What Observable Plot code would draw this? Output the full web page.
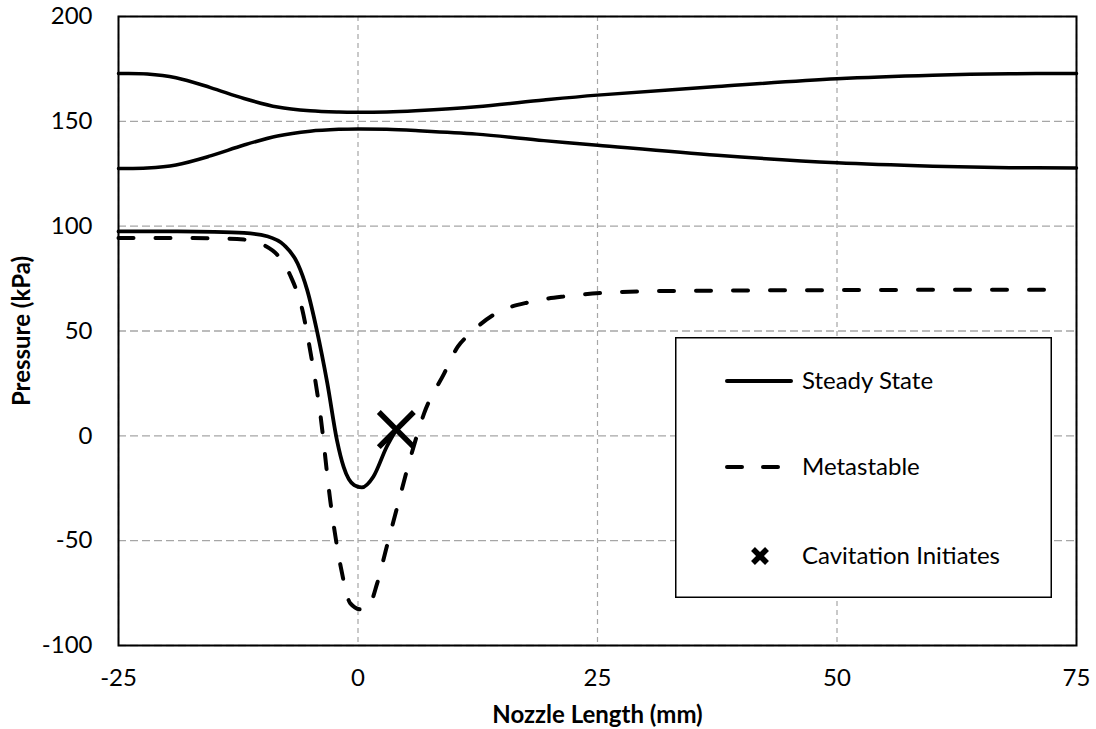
<!DOCTYPE html>
<html>
<head>
<meta charset="utf-8">
<script src="https://cdn.jsdelivr.net/npm/d3@7"></script>
<script src="https://cdn.jsdelivr.net/npm/@observablehq/plot@0.6"></script>
<style>
  html, body { margin: 0; padding: 0; background: #fff; }
  #wrap { position: relative; width: 1096px; height: 729px; font-family: Lato, "Open Sans", sans-serif; }
  #wrap svg.plot { font-family: Lato, "Open Sans", sans-serif; }
  [aria-label="x-axis label"] text, [aria-label="y-axis label"] text { font-weight: bold; font-size: 24px; }
  #legend { position: absolute; left: 675px; top: 337px; }
</style>
</head>
<body>
<div id="wrap"></div>
<script>
// Nozzle wall profile (upper and lower), x in mm
const wallX     = [-25, -22, -19, -15.4, -11.9, -8.4, -5, -2, 0, 3, 6, 12.4, 19.4, 25, 37.5, 50, 60, 68, 75];
const upperWall = [172.8, 172.6, 170.8, 166.1, 160.9, 156.8, 155.0, 154.4, 154.3, 154.5, 155.1, 157.0, 160.2, 162.5, 166.6, 170.3, 172.0, 172.7, 172.8];
const lowerWall = [127.5, 127.7, 129.2, 133.5, 138.7, 143.0, 145.3, 146.2, 146.4, 146.2, 145.6, 143.9, 140.8, 138.6, 133.8, 130.2, 128.6, 127.9, 127.8];

// Steady State pressure (kPa)
const steadyX = [-25, -20, -15, -11.9, -9.5, -7.7, -6.3, -5.3, -4.3, -3.2, -2.2, -1.5, -0.4, 0.4, 1.6, 3.0, 4.0];
const steadyY = [97.5, 97.5, 97.3, 96.8, 95.2, 90.9, 82.2, 69.5, 50.4, 25, -2, -14.8, -23.5, -24.6, -19.5, -5.2, 3];

// Metastable pressure (kPa)
const metaX = [-25, -20, -15, -11.9, -9.8, -8.4, -7.0, -5.8, -5.0, -3.9, -2.9, -1.8, -0.8, 0.3, 1.0, 2.0, 3.0, 4.1, 5.5, 6.9, 9.0, 10.4, 11.7, 14.4, 18.0, 21.8, 25.7, 29.5, 39.2, 50, 56.6, 65, 72.3];
const metaY = [94.4, 94.4, 94.2, 93.6, 90.9, 86.2, 75.8, 59.9, 40.9, 9.1, -30.7, -62.5, -79.9, -82.8, -82.3, -70.4, -52.9, -33.9, -10, 10.7, 29.8, 42.4, 48.8, 58.4, 63.9, 66.6, 68.2, 68.9, 69.3, 69.5, 69.6, 69.7, 69.7];

// Cavitation initiation point
const cavX = [4.0];
const cavY = [3.0];

const xTicks = [-25, 0, 25, 50, 75];
const yTicks = [-100, -50, 0, 50, 100, 150, 200];

const toPts = (xs, ys) => xs.map((x, i) => ({x, y: ys[i]}));
const upper = toPts(wallX, upperWall);
const lower = toPts(wallX, lowerWall);
const steady = toPts(steadyX, steadyY);
const meta = toPts(metaX, metaY);
const cav = toPts(cavX, cavY);

const chart = Plot.plot({
  width: 1096,
  height: 729,
  marginLeft: 118,
  marginRight: 20,
  marginTop: 16,
  marginBottom: 84,
  style: {fontSize: "24px", fontFamily: "Lato, 'Open Sans', sans-serif", color: "#000", background: "#fff"},
  x: {domain: [-25, 75]},
  y: {domain: [-100, 200]},
  marks: [
    Plot.gridY(yTicks, {stroke: "#a6a6a6", strokeOpacity: 1, strokeWidth: 1.3, strokeDasharray: "8,4"}),
    Plot.gridX(xTicks, {stroke: "#a6a6a6", strokeOpacity: 1, strokeWidth: 1.2, strokeDasharray: "5,4"}),
    Plot.axisX(xTicks, {tickSize: 0, tickPadding: 23, label: "Nozzle Length (mm)", labelAnchor: "center", labelArrow: "none", labelOffset: 77, tickFormat: d => String(d)}),
    Plot.axisY(yTicks, {tickSize: 0, tickPadding: 26, label: "Pressure (kPa)", labelAnchor: "center", labelArrow: "none", labelOffset: 106, tickFormat: d => String(d)}),
    Plot.line(upper, {x: "x", y: "y", stroke: "black", strokeWidth: 3.5, curve: "catmull-rom"}),
    Plot.line(lower, {x: "x", y: "y", stroke: "black", strokeWidth: 3.5, curve: "catmull-rom"}),
    Plot.line(meta, {x: "x", y: "y", stroke: "black", strokeWidth: 4, strokeDasharray: "15,22", strokeLinecap: "round", curve: "monotone-x"}),
    Plot.line(steady, {x: "x", y: "y", stroke: "black", strokeWidth: 3.8, curve: "monotone-x"}),
    Plot.dot(cav, {x: "x", y: "y", symbol: "times", r: 16, stroke: "black", strokeWidth: 5.5}),
    Plot.frame({stroke: "black", strokeWidth: 2})
  ]
});
chart.classList.add("plot");
document.getElementById("wrap").appendChild(chart);

// Legend (box overlay)
const lw = 377, lh = 261;
const legend = d3.create("svg")
  .attr("id", "legend")
  .attr("width", lw)
  .attr("height", lh)
  .style("font-family", "Lato, 'Open Sans', sans-serif")
  .style("font-size", "24px");
legend.append("rect").attr("x", 0.75).attr("y", 0.75).attr("width", lw - 1.5).attr("height", lh - 1.5)
  .attr("fill", "#fff").attr("stroke", "#000").attr("stroke-width", 1.5);
const items = [
  {label: "Steady State", kind: "solid", y: 44},
  {label: "Metastable", kind: "dash", y: 130},
  {label: "Cavitation Initiates", kind: "x", y: 219}
];
for (const it of items) {
  if (it.kind === "solid") {
    legend.append("line").attr("x1", 52).attr("x2", 116).attr("y1", it.y).attr("y2", it.y)
      .attr("stroke", "#000").attr("stroke-width", 4).attr("stroke-linecap", "round");
  } else if (it.kind === "dash") {
    legend.append("line").attr("x1", 52).attr("x2", 106).attr("y1", it.y).attr("y2", it.y)
      .attr("stroke", "#000").attr("stroke-width", 4).attr("stroke-linecap", "round")
      .attr("stroke-dasharray", "15,21");
  } else {
    legend.append("path").attr("d", `M${85-7},${it.y-7}L${85+7},${it.y+7}M${85-7},${it.y+7}L${85+7},${it.y-7}`)
      .attr("stroke", "#000").attr("stroke-width", 5.5).attr("fill", "none");
  }
  legend.append("text").attr("x", 127).attr("y", it.y).attr("dy", "0.35em").attr("fill", "#000").text(it.label);
}
document.getElementById("wrap").appendChild(legend.node());
</script>
</body>
</html>
